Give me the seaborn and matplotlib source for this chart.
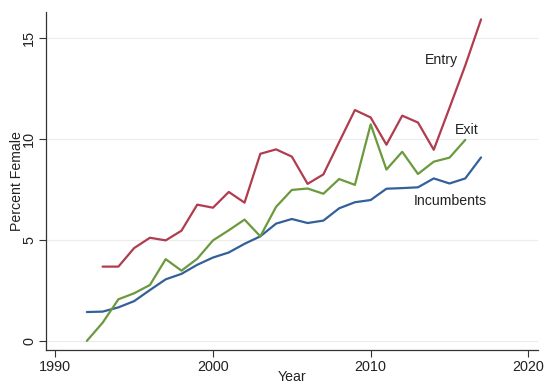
import numpy as np
import pandas as pd
import matplotlib
matplotlib.use("Agg")
import matplotlib.pyplot as plt
import seaborn as sns

# Share of women among board members, by year and group
years_inc = list(range(1992, 2018))
incumbents = [1.43, 1.45, 1.66, 1.97, 2.52, 3.05, 3.32, 3.77, 4.13, 4.38,
              4.81, 5.18, 5.81, 6.04, 5.84, 5.96, 6.57, 6.87, 6.98, 7.54,
              7.57, 7.61, 8.05, 7.80, 8.05, 9.09]

years_entry = list(range(1993, 2018))
entry = [3.68, 3.68, 4.60, 5.11, 4.98, 5.46, 6.75, 6.60, 7.38, 6.85,
         9.27, 9.49, 9.13, 7.78, 8.25, 9.85, 11.44, 11.07, 9.72, 11.16,
         10.82, 9.47, 11.55, 13.65, 15.93]

years_exit = list(range(1992, 2017))
exit_ = [0.0, 0.90, 2.06, 2.36, 2.77, 4.05, 3.48, 4.07, 4.98, 5.48,
         6.01, 5.18, 6.64, 7.48, 7.55, 7.29, 8.02, 7.73, 10.73, 8.49,
         9.37, 8.27, 8.88, 9.08, 9.96]

series_names = ["Incumbents", "Entry", "Exit"]
colors = {"Incumbents": "#34609a", "Entry": "#b03c4e", "Exit": "#6b9a3c"}
# Inline label anchors (year, percent)
label_pos = {"Entry": (2014.5, 13.9), "Exit": (2016.1, 10.45),
             "Incumbents": (2015.05, 6.95)}

df = pd.concat([
    pd.DataFrame({"Year": years_inc, "Percent": incumbents, "Group": "Incumbents"}),
    pd.DataFrame({"Year": years_entry, "Percent": entry, "Group": "Entry"}),
    pd.DataFrame({"Year": years_exit, "Percent": exit_, "Group": "Exit"}),
], ignore_index=True)

sns.set_theme(style="white")
plt.rcParams["font.family"] = ["Liberation Sans", "DejaVu Sans"]

fig = plt.figure(figsize=(5.46, 3.85), dpi=100)
ax = fig.add_axes([0.084, 0.091, 0.901, 0.878])

for y in [0, 5, 10, 15]:
    ax.axhline(y, color="#ececec", lw=0.8, zorder=0)

sns.lineplot(data=df, x="Year", y="Percent", hue="Group",
             hue_order=series_names, palette=colors, lw=1.6,
             legend=False, ax=ax)

for name, (lx, ly) in label_pos.items():
    ax.text(lx, ly, name, ha="center", va="center", fontsize=10.2,
            color="#222222")

ax.set_xlim(1989.4, 2020.6)
ax.set_ylim(-0.45, 16.3)
ax.set_xticks([1990, 2000, 2010, 2020])
ax.set_yticks([0, 5, 10, 15])
ax.tick_params(axis="both", direction="out", length=5, width=0.8,
               color="#333333", labelsize=10.4, labelcolor="#222222",
               bottom=True, left=True, pad=2)
for lab in ax.get_yticklabels():
    lab.set_rotation(90)
    lab.set_va("center")

for side in ["top", "right"]:
    ax.spines[side].set_visible(False)
for side in ["left", "bottom"]:
    ax.spines[side].set_color("#333333")
    ax.spines[side].set_linewidth(0.9)

ax.set_xlabel("Year", fontsize=10.2, color="#222222", va="bottom")
ax.xaxis.set_label_coords(0.5, -0.102)
ax.set_ylabel("Percent Female", fontsize=10.2, color="#222222", labelpad=-1)

fig.savefig("out.png", dpi=100)
